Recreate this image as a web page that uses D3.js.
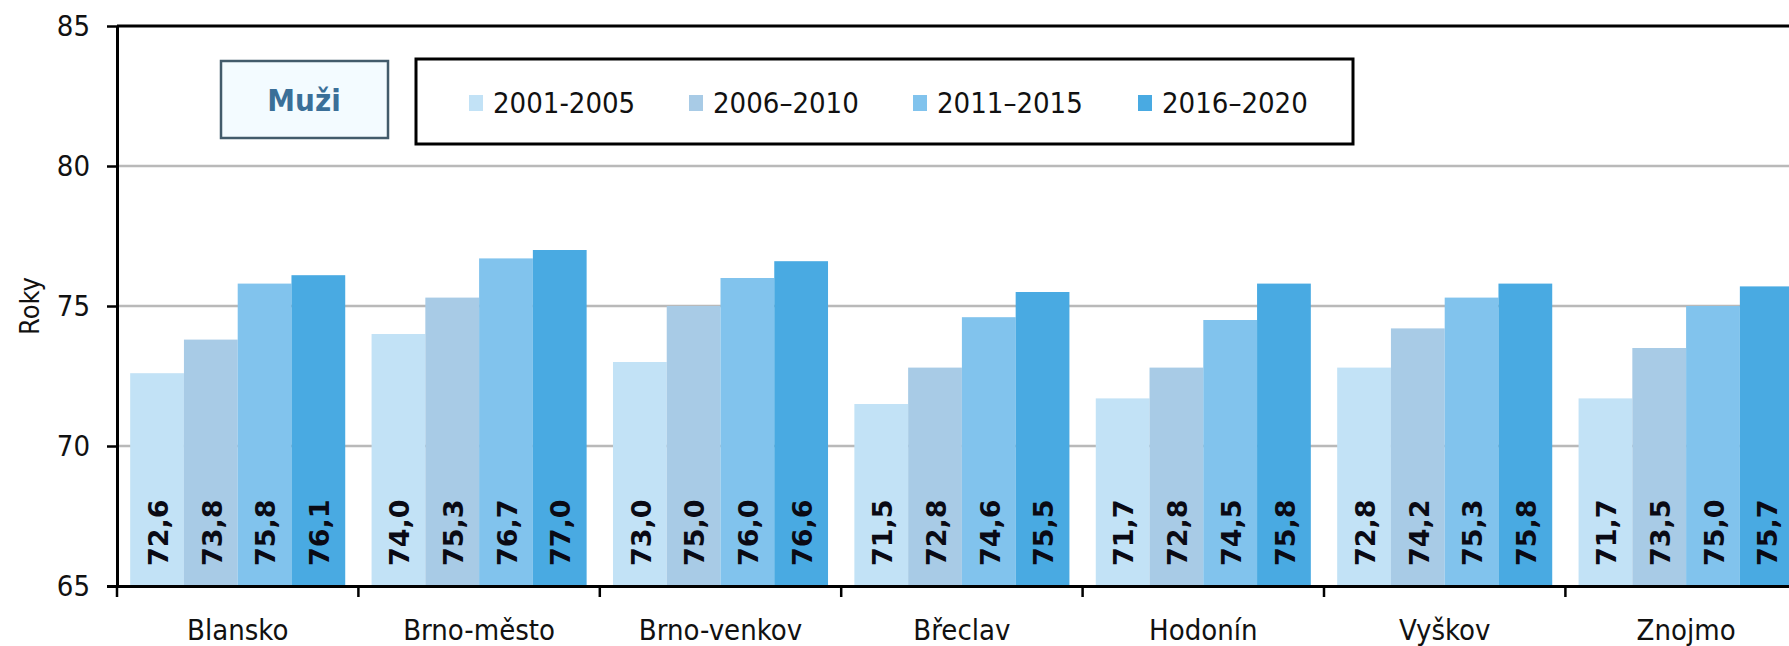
<!DOCTYPE html>
<html>
<head>
<meta charset="utf-8">
<script src="https://cdn.jsdelivr.net/npm/d3@7"></script>
<style>
  html, body { margin: 0; padding: 0; background: #ffffff; }
  svg { display: block; }
  text { font-family: "DejaVu Sans", sans-serif; font-stretch: condensed; }
</style>
</head>
<body>
<svg id="chart" width="1789" height="646"></svg>
<script>
// ---- data ----
const categories = ["Blansko", "Brno-město", "Brno-venkov", "Břeclav", "Hodonín", "Vyškov", "Znojmo"];
const seriesNames = ["2001-2005", "2006–2010", "2011–2015", "2016–2020"];
const values2001_2005 = [72.6, 74.0, 73.0, 71.5, 71.7, 72.8, 71.7];
const values2006_2010 = [73.8, 75.3, 75.0, 72.8, 72.8, 74.2, 73.5];
const values2011_2015 = [75.8, 76.7, 76.0, 74.6, 74.5, 75.3, 75.0];
const values2016_2020 = [76.1, 77.0, 76.6, 75.5, 75.8, 75.8, 75.7];
const yTickValues = [65, 70, 75, 80, 85];
const yTitle = "Roky";
const boxTitle = "Muži";
const seriesColors = ["#c2e2f6", "#a8cbe6", "#81c3ed", "#49aae2"];

const seriesValues = [values2001_2005, values2006_2010, values2011_2015, values2016_2020];

// ---- layout ----
const svg = d3.select("#chart");
const plotLeft = 117, plotTop = 26, plotBottom = 586;
const catWidth = 241.4;
const plotRight = plotLeft + catWidth * categories.length;

const y = d3.scaleLinear().domain([65, 85]).range([plotBottom, plotTop]);
const x0 = d3.scaleBand().domain(categories).range([plotLeft, plotRight]).padding(0);
const x1 = d3.scaleBand().domain(seriesNames).range([0, x0.bandwidth()]).paddingInner(0).paddingOuter(0.245);
const color = d3.scaleOrdinal().domain(seriesNames).range(seriesColors);

// gridlines (behind bars)
svg.append("g").selectAll("line")
  .data(yTickValues.filter(v => v > 65 && v < 85))
  .join("line")
  .attr("x1", plotLeft).attr("x2", plotRight)
  .attr("y1", d => y(d)).attr("y2", d => y(d))
  .attr("stroke", "#b9b9b9").attr("stroke-width", 2.5);

// top border line
svg.append("line")
  .attr("x1", plotLeft).attr("x2", plotRight)
  .attr("y1", y(85)).attr("y2", y(85))
  .attr("stroke", "#000").attr("stroke-width", 3);

// bars
const fmt = v => d3.format(".1f")(v).replace(".", ",");
const groups = svg.append("g").selectAll("g")
  .data(categories)
  .join("g")
  .attr("transform", d => `translate(${x0(d)},0)`);

groups.selectAll("rect")
  .data((c, i) => seriesNames.map((s, j) => ({ s, v: seriesValues[j][i] })))
  .join("rect")
  .attr("x", d => x1(d.s))
  .attr("width", x1.bandwidth())
  .attr("y", d => y(d.v))
  .attr("height", d => y(65) - y(d.v))
  .attr("fill", d => color(d.s));

// data labels (rotated, near the base)
groups.selectAll("text")
  .data((c, i) => seriesNames.map((s, j) => ({ s, v: seriesValues[j][i] })))
  .join("text")
  .attr("transform", d => `translate(${x1(d.s) + x1.bandwidth() / 2 + 1},${y(65) - 20}) rotate(-90)`)
  .attr("dy", "0.36em")
  .attr("text-anchor", "start")
  .style("font-family", "'DejaVu Sans', sans-serif")
  .style("font-stretch", "normal")
  .style("font-weight", "bold")
  .style("font-size", "27px")
  .attr("fill", "#0a0a14")
  .text(d => fmt(d.v));

// y axis
const yAxis = svg.append("g")
  .attr("transform", `translate(${plotLeft},0)`)
  .call(d3.axisLeft(y).tickValues(yTickValues).tickSize(10).tickPadding(17).tickFormat(d3.format("d")));
yAxis.select(".domain").attr("stroke", "#000").attr("stroke-width", 3)
  .attr("d", `M0.5,${plotTop}V${plotBottom}`);
yAxis.selectAll(".tick line").attr("stroke", "#000").attr("stroke-width", 2.5);
yAxis.selectAll(".tick text").style("font-size", "29px").attr("fill", "#111");

// x axis
const xAxis = svg.append("g")
  .attr("transform", `translate(0,${plotBottom})`)
  .call(d3.axisBottom(x0).tickSize(0).tickPadding(33));
xAxis.select(".domain").attr("stroke", "#000").attr("stroke-width", 3)
  .attr("d", `M${plotLeft - 10},0.5H${plotRight}`);
xAxis.selectAll(".tick text").style("font-size", "29px").attr("fill", "#111");

// category boundary ticks
svg.append("g").selectAll("line")
  .data(d3.range(categories.length + 1))
  .join("line")
  .attr("x1", i => plotLeft + i * x0.step()).attr("x2", i => plotLeft + i * x0.step())
  .attr("y1", plotBottom).attr("y2", plotBottom + 11)
  .attr("stroke", "#000").attr("stroke-width", 2.5);

// y title
svg.append("text")
  .attr("transform", `translate(30,${(plotTop + plotBottom) / 2}) rotate(-90)`)
  .attr("text-anchor", "middle")
  .attr("dy", "0.35em")
  .style("font-size", "27px")
  .attr("fill", "#111")
  .text(yTitle);

// "Muži" box
svg.append("rect")
  .attr("x", 221).attr("y", 61).attr("width", 167).attr("height", 77)
  .attr("fill", "#f3fbff").attr("stroke", "#425b6b").attr("stroke-width", 2.5);
svg.append("text")
  .attr("x", 304).attr("y", 100).attr("dy", "0.35em")
  .attr("text-anchor", "middle")
  .style("font-weight", "bold").style("font-size", "31px")
  .attr("fill", "#3a6f98")
  .text(boxTitle);

// legend
svg.append("rect")
  .attr("x", 416).attr("y", 59).attr("width", 937).attr("height", 85)
  .attr("fill", "#fff").attr("stroke", "#000").attr("stroke-width", 3);
const legendX = [469, 689, 913, 1138];
const leg = svg.append("g").selectAll("g")
  .data(seriesNames)
  .join("g")
  .attr("transform", (d, i) => `translate(${legendX[i]},103)`);
leg.append("rect")
  .attr("x", 0).attr("y", -8).attr("width", 14).attr("height", 16)
  .attr("fill", d => color(d));
leg.append("text")
  .attr("x", 24).attr("dy", "0.35em")
  .style("font-size", "29px").attr("fill", "#111")
  .text(d => d);
</script>
</body>
</html>
